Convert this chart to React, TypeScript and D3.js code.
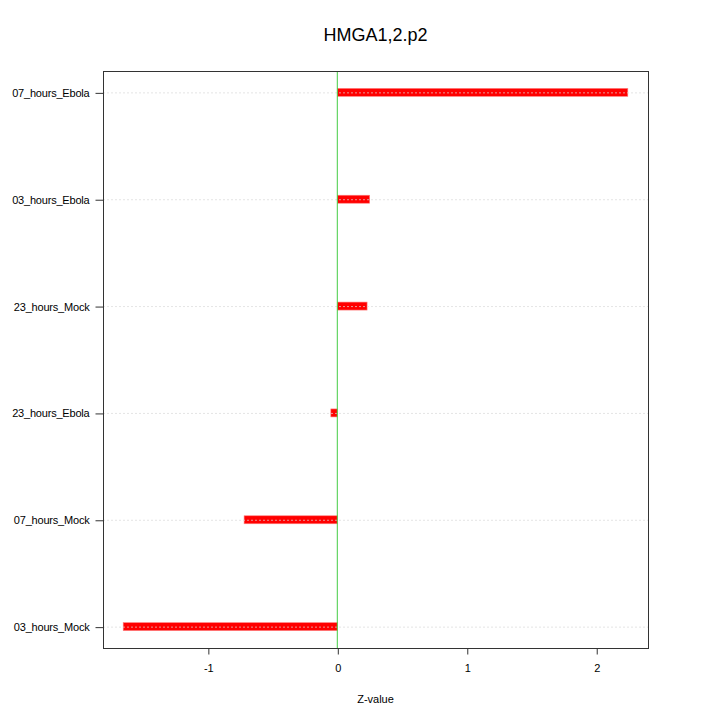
import * as d3 from "d3";
import { useEffect, useRef } from "react";

const categories = [
  "03_hours_Mock",
  "07_hours_Mock",
  "23_hours_Ebola",
  "23_hours_Mock",
  "03_hours_Ebola",
  "07_hours_Ebola",
];
const zValues = [-1.654, -0.72, -0.05, 0.23, 0.25, 2.244];
const xTicks = [-1, 0, 1, 2];
const title = "HMGA1,2.p2";
const xLabel = "Z-value";

const App = () => {
  const ref = useRef<SVGSVGElement | null>(null);

  useEffect(() => {
    const svg = d3.select(ref.current);
    svg.selectAll("*").remove();

    const width = 720;
    const height = 720;
    const margin = { top: 71, right: 72, bottom: 72, left: 103 };
    const font = "'Liberation Sans', Arial, sans-serif";

    // R-style 4% padding on both axes
    const [lo, hi] = d3.extent(zValues) as [number, number];
    const pad = (hi - lo) * 0.04;
    const x = d3
      .scaleLinear()
      .domain([lo - pad, hi + pad])
      .range([margin.left, width - margin.right]);

    const n = categories.length;
    const yPad = (n - 1) * 0.04;
    const y = d3
      .scaleLinear()
      .domain([1 - yPad, n + yPad])
      .range([height - margin.bottom, margin.top]);

    const g = svg.append("g");

    // bars
    g.selectAll("rect.bar")
      .data(zValues)
      .enter()
      .append("rect")
      .attr("class", "bar")
      .attr("x", (d) => Math.min(x(0), x(d)))
      .attr("width", (d) => Math.abs(x(d) - x(0)))
      .attr("y", (_, i) => y(i + 1) - 4)
      .attr("height", 8)
      .attr("fill", "#ff0000")
      .attr("stroke", "#ff8080")
      .attr("stroke-width", 0.6);

    // dotted grid lines
    g.selectAll("line.grid")
      .data(categories)
      .enter()
      .append("line")
      .attr("x1", margin.left)
      .attr("x2", width - margin.right)
      .attr("y1", (_, i) => y(i + 1) + 0.5)
      .attr("y2", (_, i) => y(i + 1) + 0.5)
      .attr("stroke", "#d8d8d8")
      .attr("stroke-opacity", 0.7)
      .attr("stroke-dasharray", "2,2");

    // zero line
    g.append("line")
      .attr("x1", x(0))
      .attr("x2", x(0))
      .attr("y1", margin.top)
      .attr("y2", height - margin.bottom)
      .attr("stroke", "#44cc44")
      .attr("stroke-width", 1);

    // box
    g.append("rect")
      .attr("x", margin.left + 0.5)
      .attr("y", margin.top + 0.5)
      .attr("width", width - margin.left - margin.right)
      .attr("height", height - margin.top - margin.bottom)
      .attr("fill", "none")
      .attr("stroke", "#333");

    // x axis
    const xAxis = g
      .append("g")
      .attr("transform", `translate(0.5, ${height - margin.bottom + 0.5})`)
      .call(d3.axisBottom(x).tickValues(xTicks).tickSize(6).tickPadding(10).tickFormat((d) => String(d)));
    xAxis.select(".domain").attr("d", `M${x(-1)},0H${x(2)}`).attr("stroke", "#333");
    xAxis.selectAll(".tick line").attr("stroke", "#333");
    xAxis.selectAll("text").style("font-size", "11px").style("font-family", font).attr("fill", "#000");

    // y axis
    const yAxis = g
      .append("g")
      .attr("transform", `translate(${margin.left + 0.5}, 0.5)`)
      .call(
        d3
          .axisLeft(y)
          .tickValues(d3.range(1, n + 1))
          .tickSize(8)
          .tickPadding(6)
          .tickFormat((d) => categories[(d as number) - 1])
      );
    yAxis.select(".domain").remove();
    yAxis.selectAll(".tick line").attr("stroke", "#333");
    yAxis
      .selectAll("text")
      .style("font-size", "11px")
      .style("font-family", font)
      .style("letter-spacing", "-0.2px")
      .attr("fill", "#000");

    // title
    svg
      .append("text")
      .attr("x", (margin.left + width - margin.right) / 2)
      .attr("y", 41)
      .attr("text-anchor", "middle")
      .style("font-size", "18px")
      .style("font-family", font)
      .text(title);

    // x label
    svg
      .append("text")
      .attr("x", (margin.left + width - margin.right) / 2)
      .attr("y", 703)
      .attr("text-anchor", "middle")
      .style("font-size", "11px")
      .style("font-family", font)
      .text(xLabel);
  }, []);

  return <svg ref={ref} width={720} height={720} style={{ display: "block", position: "absolute", left: 0, top: 0 }}></svg>;
};

export default App;
